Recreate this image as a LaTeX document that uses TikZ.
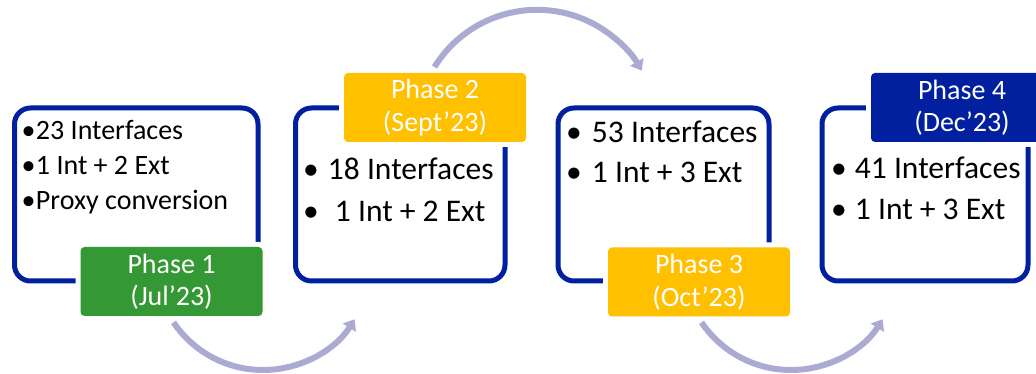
\documentclass[tikz,border=0pt]{standalone}
\usepackage{fontspec}
\setmainfont{Carlito}
\usetikzlibrary{arrows.meta}
\definecolor{bordblue}{RGB}{0,32,160}
\definecolor{labblue}{RGB}{0,32,160}
\definecolor{labgreen}{RGB}{52,153,52}
\definecolor{labyellow}{RGB}{255,192,0}
\definecolor{flowcol}{RGB}{170,170,210}
\newcommand\mybul[1]{\makebox[#1pt][l]{•}}
\tikzset{
  panel/.style={draw=bordblue, line width=5pt, fill=white, rounded corners=16pt,
    rectangle, inner sep=0pt, outer sep=0pt},
  phaselab/.style={rectangle, rounded corners=4pt, inner sep=0pt, outer sep=0pt,
    minimum width=182pt, minimum height=69pt, text=white, align=center,
    font=\fontsize{28}{32.5}\selectfont,
    preaction={draw=white, line width=10pt}},
  bigtxt/.style={inner sep=0pt, outer sep=0pt, anchor=base west,
    font=\fontsize{31.5}{38}\selectfont},
  smalltxt/.style={inner sep=0pt, outer sep=0pt, anchor=base west,
    font=\fontsize{28}{34}\selectfont},
  flow/.style={draw=flowcol, line width=6pt, -{Triangle[length=10pt,width=15pt]}}
}
\begin{document}
\begin{tikzpicture}[x=1pt,y=1pt]
\useasboundingbox (0,0) rectangle (1036,374);
% panels
\node[panel, minimum width=243.5pt, minimum height=173pt] (b1) at (136.25,179.5) {};
\node[panel, minimum width=209.5pt, minimum height=173pt] (b2) at (400.25,179.5) {};
\node[panel, minimum width=211pt, minimum height=173pt] (b3) at (663.5,179.5) {};
\node[panel, minimum width=206pt, minimum height=173pt] (b4) at (925,179.5) {};
% panel texts
\node[smalltxt] (t11) at (21.5,234) {\mybul{14.5}23 Interfaces};
\node[smalltxt] (t12) at (21.5,199) {\mybul{14.5}1 Int + 2 Ext};
\node[smalltxt] (t13) at (21.5,164) {\mybul{14.5}Proxy conversion};
\node[bigtxt] (t21) at (303,194) {\mybul{25}18 Interfaces};
\node[bigtxt] (t22) at (303,152) {\mybul{32}1 Int + 2 Ext};
\node[bigtxt] (t31) at (566,231) {\mybul{26}53 Interfaces};
\node[bigtxt] (t32) at (566,191) {\mybul{26}1 Int + 3 Ext};
\node[bigtxt] (t41) at (831,195) {\mybul{24}41 Interfaces};
\node[bigtxt] (t42) at (831,154) {\mybul{24}1 Int + 3 Ext};
% phase labels
\node[phaselab, fill=labgreen] (l1) at (171.5,92.5) {Phase 1\\(Jul’23)};
\node[phaselab, fill=labyellow] (l2) at (435,266.5) {Phase 2\\(Sept’23)};
\node[phaselab, fill=labyellow] (l3) at (699,92) {Phase 3\\(Oct’23)};
\node[phaselab, fill=labblue] (l4) at (962,266.5) {Phase 4\\(Dec’23)};
% flow arrows
\coordinate (a1s) at (173.5,51.6);
\coordinate (a2s) at (434.5,307);
\coordinate (a3s) at (701.5,51.6);
\draw[flow] (a1s) arc[start angle=214, end angle=328, radius=108];
\draw[flow] (a2s) arc[start angle=148.3, end angle=29.7, radius=120.5];
\draw[flow] (a3s) arc[start angle=214, end angle=328, radius=108];
\end{tikzpicture}
\end{document}
